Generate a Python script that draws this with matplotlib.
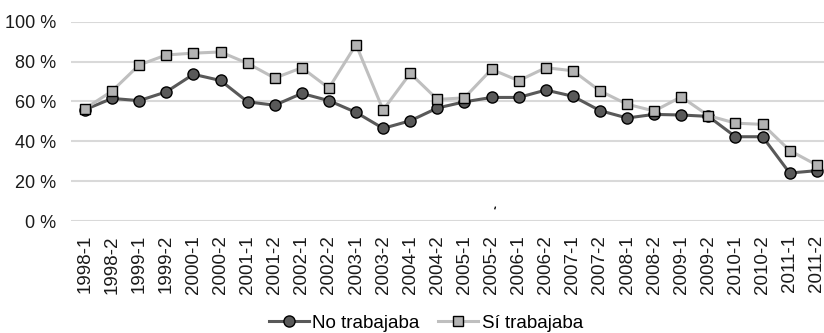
import matplotlib.pyplot as plt
from matplotlib.ticker import FuncFormatter

plt.rcParams['font.family'] = ['Liberation Sans', 'DejaVu Sans']

periodos = [f"{a}-{s}" for a in range(1998, 2012) for s in (1, 2)]
no_trabajaba = [55.9, 61.5, 60.4, 64.8, 73.6, 70.5, 59.8, 58.1, 64.0, 60.4,
                54.5, 46.5, 50.3, 56.7, 59.8, 62.0, 62.0, 65.7, 62.6, 55.4,
                51.7, 53.5, 53.2, 52.5, 42.3, 42.3, 24.1, 25.3]
si_trabajaba = [56.4, 65.2, 78.3, 83.3, 84.2, 84.8, 79.1, 71.7, 76.9, 66.7,
                88.5, 55.7, 74.1, 61.0, 61.8, 76.1, 70.4, 76.9, 75.4, 65.3,
                58.6, 55.2, 62.3, 52.9, 49.1, 48.5, 35.4, 28.1]

fig = plt.figure(figsize=(8.24, 3.33), dpi=100)
ax = fig.add_axes([0.0867, 0.336, 0.921, 0.599])

x = range(len(periodos))
ax.plot(x, no_trabajaba, color='#595959', lw=2.2, marker='o', ms=8,
        mfc='#595959', mec='black', mew=1.0, label='No trabajaba', zorder=3)
ax.plot(x, si_trabajaba, color='#bfbfbf', lw=2.2, marker='s', ms=6.5,
        mfc='#b3b3b3', mec='black', mew=1.0, label='Sí trabajaba', zorder=3)

ax.set_xlim(-0.5, len(periodos) - 0.5)
ax.set_ylim(0, 100)
ax.set_yticks(range(0, 101, 20))
ax.yaxis.set_major_formatter(FuncFormatter(lambda v, p: f"{v:.0f} %"))
ax.set_xticks(list(x))
ax.set_xticklabels(periodos, rotation=90)
ax.tick_params(length=0, colors='#1a1a1a')
ax.tick_params(axis='x', labelsize=13.5, pad=10)
ax.tick_params(axis='y', labelsize=13, pad=11)
ax.grid(axis='y', color='#d9d9d9', lw=1.5)
ax.set_axisbelow(True)
for s in ax.spines.values():
    s.set_visible(False)

ax.text(15.05, 0.8, "'", fontsize=11, color='black', ha='center', va='bottom',
        rotation=-15)

fig.legend(loc='center', bbox_to_anchor=(0.517, 0.03), ncol=2, frameon=False,
           fontsize=13.5, handlelength=2.1, handletextpad=0.2, columnspacing=1.0,
           borderpad=0)

fig.savefig('out.png', dpi=100)
